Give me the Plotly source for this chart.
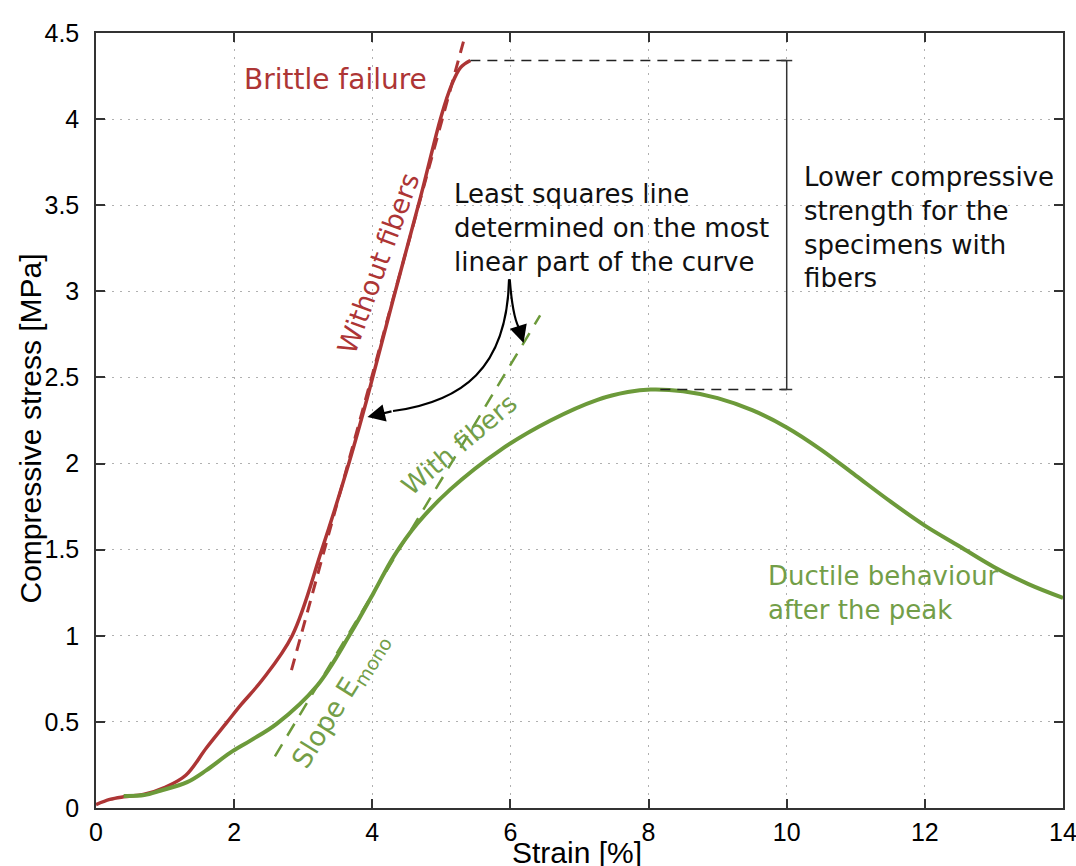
import plotly.graph_objects as go

# ---------------- data ----------------
red_x = [0, 0.2, 0.4, 0.7, 1.0, 1.3, 1.6, 1.9, 2.1, 2.4, 2.84, 3.27, 3.66, 3.92, 4.3, 4.7, 5.0, 5.15, 5.28, 5.42]
red_y = [0.02, 0.05, 0.065, 0.08, 0.12, 0.19, 0.35, 0.5, 0.6, 0.74, 1.0, 1.5, 2.0, 2.37, 2.95, 3.55, 4.02, 4.2, 4.3, 4.34]

green_x = [0.4, 0.7, 0.93, 1.32, 1.6, 1.94, 2.23, 2.62, 3.2, 3.68, 4.02, 4.31, 4.65, 5.13, 5.86, 6.58, 7.26, 7.7, 8.03,
           8.5, 9.0, 9.5, 10.0, 10.5, 11.0, 11.5, 12.0, 12.5, 13.0, 13.5, 14.0]
green_y = [0.07, 0.075, 0.10, 0.15, 0.22, 0.32, 0.39, 0.49, 0.71, 1.01, 1.25, 1.46, 1.65, 1.85, 2.08, 2.25, 2.37, 2.415, 2.43,
           2.42, 2.38, 2.31, 2.21, 2.08, 1.93, 1.78, 1.64, 1.52, 1.40, 1.30, 1.22]

red_fit_x = [2.83, 5.32]
red_fit_y = [0.80, 4.45]
green_fit_x = [2.59, 6.43]
green_fit_y = [0.30, 2.86]

x_ticks = [0, 2, 4, 6, 8, 10, 12, 14]
y_ticks = [0, 0.5, 1, 1.5, 2, 2.5, 3, 3.5, 4, 4.5]

strength_gap_x = 10.0
green_peak_line_start = 8.17

RED = "#AD3535"
GREEN = "#6C9A3A"
TXT_GREEN = "#739E48"

fig = go.Figure()

fig.add_trace(go.Scatter(x=red_fit_x, y=red_fit_y, mode="lines",
                         line=dict(color=RED, width=3, dash="12px,8px"), showlegend=False))
fig.add_trace(go.Scatter(x=green_fit_x, y=green_fit_y, mode="lines",
                         line=dict(color=GREEN, width=2.5, dash="14px,10px"), showlegend=False))
fig.add_trace(go.Scatter(x=red_x, y=red_y, mode="lines", line=dict(color=RED, width=3.5, shape="spline"),
                         showlegend=False))
fig.add_trace(go.Scatter(x=green_x, y=green_y, mode="lines", line=dict(color=GREEN, width=4, shape="spline"),
                         showlegend=False))

red_peak = max(red_y)
green_peak = max(green_y)
red_peak_x = red_x[red_y.index(red_peak)]

# dashed guide lines and gap marker
fig.add_trace(go.Scatter(x=[red_peak_x, strength_gap_x], y=[red_peak, red_peak], mode="lines",
                         line=dict(color="#222222", width=1.5, dash="10px,7px"), showlegend=False))
fig.add_trace(go.Scatter(x=[green_peak_line_start, strength_gap_x], y=[green_peak, green_peak], mode="lines",
                         line=dict(color="#222222", width=1.5, dash="10px,7px"), showlegend=False))
fig.add_trace(go.Scatter(x=[strength_gap_x, strength_gap_x], y=[green_peak, red_peak], mode="lines",
                         line=dict(color="#333333", width=1.5), showlegend=False))
for yy in (green_peak, red_peak):
    fig.add_trace(go.Scatter(x=[strength_gap_x - 0.08, strength_gap_x + 0.08], y=[yy, yy], mode="lines",
                             line=dict(color="#333333", width=1.5), showlegend=False))

# curved arrows
fig.add_shape(type="path", xref="x", yref="y",
              path="M 5.98,3.07 C 5.95,2.55 5.3,2.36 4.3,2.305",
              line=dict(color="black", width=2.2))
fig.add_shape(type="path", xref="x", yref="y",
              path="M 5.99,3.07 Q 6.03,2.86 6.12,2.79",
              line=dict(color="black", width=2.2))
fig.add_annotation(x=3.93, y=2.27, ax=4.3, ay=2.305, xref="x", yref="y", axref="x", ayref="y",
                   text="", showarrow=True, arrowhead=2, arrowsize=1.6, arrowwidth=2.2, arrowcolor="black")
fig.add_annotation(x=6.19, y=2.70, ax=6.12, ay=2.79, xref="x", yref="y", axref="x", ayref="y",
                   text="", showarrow=True, arrowhead=2, arrowsize=1.6, arrowwidth=2.2, arrowcolor="black")

F = "DejaVu Sans"
def note(x, y, text, color, size=26, angle=0, xanchor="center", align="center"):
    fig.add_annotation(x=x, y=y, xref="x", yref="y", text=text, showarrow=False, textangle=angle,
                       xanchor=xanchor, yanchor="middle", align=align,
                       font=dict(family=F, size=size, color=color))

note(3.47, 4.23, "Brittle failure", RED, 28)
note(4.09, 3.16, "Without fibers", RED, 27, angle=-70)
note(5.25, 2.11, "With fibers", TXT_GREEN, 26, angle=-40)
note(3.54, 0.62, "Slope E<sub>mono</sub>", TXT_GREEN, 27, angle=-58)
note(5.16, 3.37, "Least squares line<br>determined on the most<br>linear part of the curve", "#111111", 26,
     xanchor="left", align="left")
note(10.22, 3.37, "Lower compressive<br>strength for the<br>specimens with<br>fibers", "#111111", 26,
     xanchor="left", align="left")
note(9.70, 1.25, "Ductile behaviour<br>after the peak", TXT_GREEN, 26, xanchor="left", align="left")

# axis titles
fig.add_annotation(x=0.497, y=-0.058, xref="paper", yref="paper", text="Strain [%]", showarrow=False,
                   xanchor="center", yanchor="middle", font=dict(family="Liberation Sans", size=30, color="black"))
fig.add_annotation(x=-0.068, y=0.49, xref="paper", yref="paper", text="Compressive stress [MPa]",
                   showarrow=False, textangle=-90, xanchor="center", yanchor="middle",
                   font=dict(family="Liberation Sans", size=30, color="black"))

axis_common = dict(showline=True, linecolor="#333333", linewidth=1.5, mirror="ticks", ticks="inside",
                   ticklen=9, tickwidth=1.5, tickcolor="#333333", showgrid=True, gridcolor="#b0b0b0",
                   griddash="2px,6px", gridwidth=1, zeroline=False, ticklabeloverflow="allow",
                   automargin=False,
                   tickfont=dict(family="Liberation Sans", size=25, color="black"))
fig.update_xaxes(range=[0, 14], tickvals=x_ticks, ticklabelstandoff=1, **axis_common)
fig.update_yaxes(range=[0, 4.5], tickvals=y_ticks, ticklabelstandoff=10, **axis_common)

fig.update_layout(width=1076, height=866, margin=dict(l=96, r=13, t=33, b=58),
                  plot_bgcolor="white", paper_bgcolor="white", showlegend=False)

fig.write_html("out.html")
